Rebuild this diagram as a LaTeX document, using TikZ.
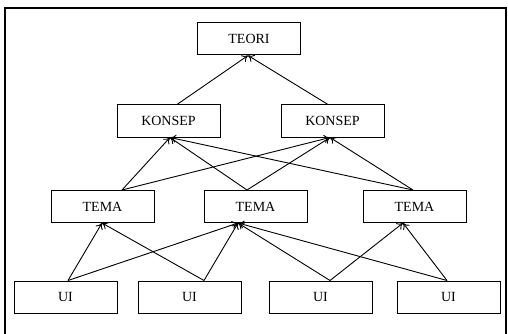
\documentclass[tikz,border=0pt]{standalone}
\usepackage{fontspec}
\setmainfont{Liberation Serif}
\usetikzlibrary{arrows.meta}
\begin{document}
\begin{tikzpicture}[x=1pt,y=-1pt,
  box/.style={draw, line width=1pt, minimum width=103pt, minimum height=32pt, inner sep=0pt, font=\fontsize{14}{16}\selectfont},
  arr/.style={-{To[length=6pt,width=8pt]}, line width=0.9pt}]
\useasboundingbox (0,0) rectangle (508,334);
\draw[line width=1.2pt] (5,334) -- (5,8) -- (506,8) -- (506,334);
\node[box] (teori) at (249,39) {TEORI};
\node[box] (k1) at (168.5,121) {KONSEP};
\node[box] (k2) at (332.5,121) {KONSEP};
\node[box] (t1) at (102.5,206.5) {TEMA};
\node[box] (t2) at (255.5,206.5) {TEMA};
\node[box] (t3) at (414.5,206.5) {TEMA};
\node[box] (u1) at (65.5,297) {UI};
\node[box] (u2) at (189.5,297) {UI};
\node[box] (u3) at (320.5,297) {UI};
\node[box] (u4) at (448.5,297) {UI};
% top level
\draw[arr] ([xshift=8.5pt]k1.north) -- ([xshift=-1pt]teori.south);
\draw[arr] ([xshift=-4.5pt]k2.north) -- ([xshift=-1pt]teori.south);
% tema -> konsep
\foreach \t/\o in {t1/19.5, t2/-8.5, t3/-1.5}{
  \draw[arr] ([xshift=\o pt]\t.north) -- ([xshift=1.5pt]k1.south);
  \draw[arr] ([xshift=\o pt]\t.north) -- ([xshift=-2.5pt]k2.south);
}
% ui -> tema
\draw[arr] ([xshift=2.5pt]u1.north) -- ([xshift=-0.5pt]t1.south);
\draw[arr] ([xshift=14.5pt]u2.north) -- ([xshift=-0.5pt]t1.south);
\draw[arr] ([xshift=2.5pt]u1.north) -- ([xshift=-17.5pt]t2.south);
\draw[arr] ([xshift=14.5pt]u2.north) -- ([xshift=-17.5pt]t2.south);
\draw[arr] ([xshift=9.5pt]u3.north) -- ([xshift=-17.5pt]t2.south);
\draw[arr] ([xshift=-1.5pt]u4.north) -- ([xshift=-17.5pt]t2.south);
\draw[arr] ([xshift=9.5pt]u3.north) -- ([xshift=-11.5pt]t3.south);
\draw[arr] ([xshift=-1.5pt]u4.north) -- ([xshift=-11.5pt]t3.south);
\end{tikzpicture}
\end{document}
